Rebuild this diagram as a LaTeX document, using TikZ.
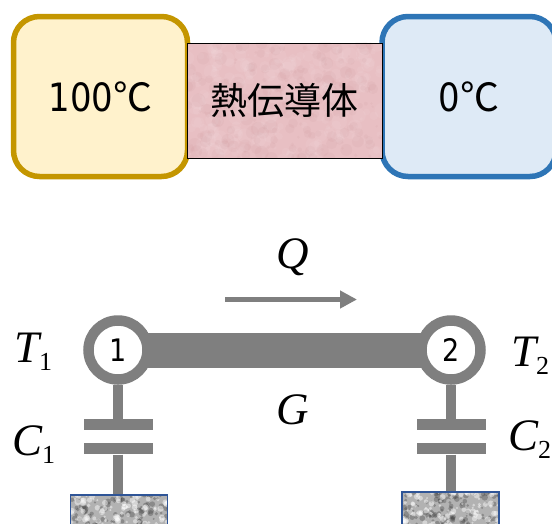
\documentclass[tikz,border=0pt]{standalone}
\usepackage{amsmath}
\usepackage{fontspec}
\setmainfont{DejaVu Sans}[FakeStretch=0.87]
\newfontfamily\cjkfont{Noto Sans CJK JP}
\newfontfamily\symbolfont{Liberation Serif}
\usetikzlibrary{arrows.meta,backgrounds,positioning}
\definecolor{hotline}{HTML}{C49600}
\definecolor{hotfill}{HTML}{FFF2CC}
\definecolor{coldline}{HTML}{2E75B6}
\definecolor{coldfill}{HTML}{DEEAF6}
\definecolor{pinkbase}{HTML}{E8BFC3}
\definecolor{wire}{HTML}{7F7F7F}
\definecolor{earthline}{HTML}{2F5597}
% random blobs for the two textures
\newcommand{\specks}[5]{%
  \foreach \k in {1,...,#1}{%
    \pgfmathsetmacro{\px}{rnd*#2}
    \pgfmathsetmacro{\py}{rnd*#3}
    \pgfmathsetmacro{\pr}{1+rnd*#4}
    \fill[#5] (path picture bounding box.north west) ++(\px pt,-\py pt) circle (\pr pt);
  }}
% letter with a low subscript
\newcommand{\lowsub}[2]{{\itshape #1}\raisebox{-8pt}{\fontsize{26}{30}\selectfont #2}}
\tikzset{
  tank/.style={draw, rounded corners=26pt, line width=5.5pt, minimum height=160pt},
  conductor/.style={draw=black, line width=.8pt, fill=pinkbase, minimum width=194.5pt,
    minimum height=115.5pt, inner sep=0pt,
    path picture={\specks{260}{195}{116}{7}{white,opacity=.06}\specks{220}{195}{116}{6}{black!60!red,opacity=.025}}},
  thermal/.style={circle, draw=wire, fill=white, line width=10.5pt, minimum size=59pt, inner sep=0pt,
    font=\fontsize{31}{34}\selectfont},
  plate/.style={fill=wire, minimum width=69pt, minimum height=11pt, inner sep=0pt},
  stem/.style={draw=wire, line width=10.7pt},
  earth/.style={draw=earthline, line width=1.3pt, fill=black!30, minimum width=97pt, minimum height=60pt,
    inner sep=0pt,
    path picture={\specks{170}{98}{60}{2.2}{black!75,opacity=.35}\specks{170}{98}{60}{2.2}{white,opacity=.45}}},
  symbol/.style={anchor=base west, inner sep=0pt, font=\fontsize{45}{50}\selectfont\symbolfont},
  tanktext/.style={font=\fontsize{39}{44}\selectfont},
  bodytext/.style={font=\fontsize{37}{44}\selectfont\cjkfont}
}
\pgfmathsetseed{7}
\begin{document}
\begin{tikzpicture}[x=1pt,y=-1pt]
  \clip (0,0) rectangle (552,523);
  % upper picture
  \node (hot) [tank, draw=hotline, fill=hotfill, minimum width=174pt, tanktext] at (100.5,96.5)
    {100{\cjkfont ℃}};
  \node (cold) [tank, draw=coldline, fill=coldfill, minimum width=174pt, tanktext] at (469,96.5)
    {0{\cjkfont ℃}};
  \node (body) [conductor, bodytext] at (284.7,100.7) {熱伝導体};
  % lower picture
  \node (one) [thermal] at (118,350) {1};
  \node (two) [thermal] at (451,350) {2};
  \begin{scope}[on background layer]
    \draw[wire, line width=35pt] (one.center) -- (two.center);
  \end{scope}
  \node (plateAu) [plate] at (118,424.5) {};
  \node (plateAl) [plate] [below=13pt of plateAu] {};
  \node (plateBu) [plate] at (451,424.5) {};
  \node (plateBl) [plate] [below=13pt of plateBu] {};
  \node (earthA) [earth] at (119,525) {};
  \node (earthB) [earth] at (450.5,522) {};
  \draw[stem] (one) -- (plateAu);
  \draw[stem] (two) -- (plateBu);
  \draw[stem] (plateAl) -- (plateAl |- earthA.north);
  \draw[stem] (plateBl) -- (plateBl |- earthB.north);
  \coordinate (flowA) at (225,299.5);
  \coordinate (flowB) at (357,299.5);
  \draw[wire, line width=5.5pt, -{Triangle[length=17pt,width=17pt]}] (flowA) -- (flowB);
  \node (flow) [symbol] at (276,268) {\itshape Q};
  \node (cond) [symbol] at (276,424) {\itshape G};
  \node (t1) [symbol] at (14,362) {\lowsub{T}{1}};
  \node (c1) [symbol] at (12,455) {\lowsub{C}{1}};
  \node (t2) [symbol] at (511,366) {\lowsub{T}{2}};
  \node (c2) [symbol] at (508,450) {\lowsub{C}{2}};
\end{tikzpicture}
\end{document}
